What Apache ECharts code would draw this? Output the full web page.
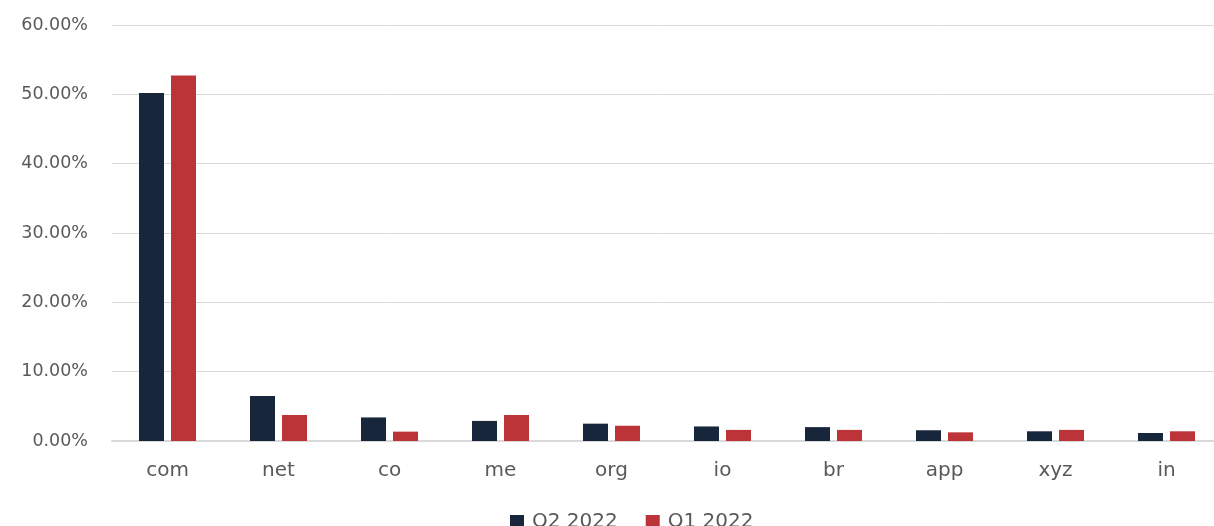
<!DOCTYPE html>
<html>
<head>
<meta charset="utf-8">
<script src="https://cdn.jsdelivr.net/npm/echarts@6/dist/echarts.min.js"></script>
<style>
  html, body { margin: 0; padding: 0; background: #ffffff; }
  #chart { width: 1214px; height: 526px; }
</style>
</head>
<body>
<div id="chart"></div>
<script>
// Top-level domain share by quarter (percent)
const categories = ['com', 'net', 'co', 'me', 'org', 'io', 'br', 'app', 'xyz', 'in'];
const q2_2022 = [50.2, 6.5, 3.4, 2.9, 2.5, 2.1, 2.0, 1.55, 1.4, 1.15];
const q1_2022 = [52.7, 3.75, 1.35, 3.75, 2.2, 1.6, 1.6, 1.25, 1.6, 1.4];
const seriesNames = ['Q2 2022', 'Q1 2022'];
const yTicks = { min: 0, max: 60, interval: 10 };

const labelColor = '#595959';
const fontFamily = '"DejaVu Sans", "Noto Sans", sans-serif';

const chart = echarts.init(document.getElementById('chart'), null, { renderer: 'canvas' });
chart.setOption({
  animation: false,
  backgroundColor: '#ffffff',
  grid: {
    left: 112, top: 25, width: 1110, bottom: 85,
    containLabel: false, outerBoundsMode: 'none'
  },
  legend: {
    data: seriesNames,
    top: 507,
    left: 505,
    itemWidth: 14,
    itemHeight: 14,
    itemGap: 28,
    icon: 'rect',
    textStyle: { color: labelColor, fontSize: 20, fontFamily: fontFamily, padding: [0, 0, 0, 3] }
  },
  xAxis: {
    type: 'category',
    data: categories,
    axisLine: { show: true, lineStyle: { color: '#d9d9d9', width: 2 } },
    axisTick: { show: false },
    axisLabel: { color: labelColor, fontSize: 20, fontFamily: fontFamily, margin: 20 }
  },
  yAxis: {
    type: 'value',
    min: yTicks.min,
    max: yTicks.max,
    interval: yTicks.interval,
    axisLine: { show: false },
    axisTick: { show: false },
    splitLine: { lineStyle: { color: '#d9d9d9', width: 1 } },
    axisLabel: {
      color: labelColor, fontSize: 17.5, fontFamily: fontFamily, margin: 24,
      formatter: v => v.toFixed(2) + '%'
    }
  },
  series: [
    {
      name: seriesNames[0], type: 'bar', data: q2_2022,
      barWidth: 25, barGap: '28%',
      itemStyle: { color: '#17263a' }
    },
    {
      name: seriesNames[1], type: 'bar', data: q1_2022,
      barWidth: 25,
      itemStyle: { color: '#bd3438' }
    }
  ]
});
</script>
</body>
</html>
